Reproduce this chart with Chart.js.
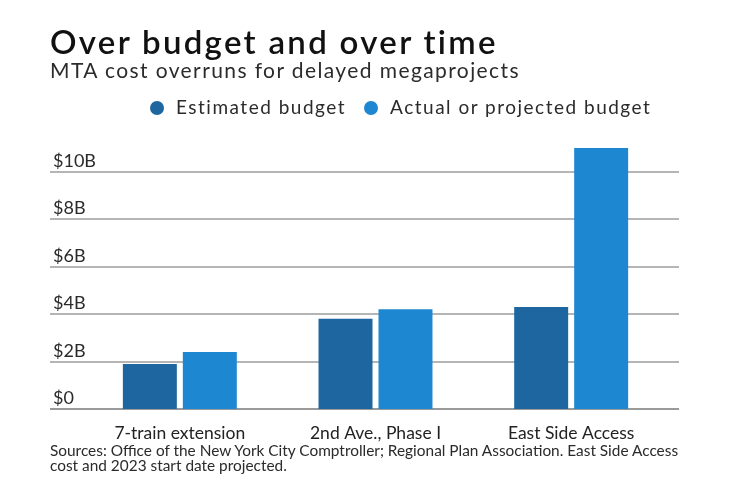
<!DOCTYPE html>
<html>
<head>
<meta charset="utf-8">
<script src="https://cdn.jsdelivr.net/npm/chart.js@4.4.1/dist/chart.umd.min.js"></script>
<style>
  html, body { margin: 0; padding: 0; background: #fff; }
  body { width: 740px; height: 482px; position: relative; overflow: hidden; font-family: 'Lato', sans-serif; }
  .txt { position: absolute; left: 50px; white-space: nowrap; line-height: 1.2; }
  #title { top: 22px; font-size: 33px; font-weight: 600; color: #111; letter-spacing: 2.3px; }
  #subtitle { top: 57px; font-size: 21px; color: #2b2b2b; letter-spacing: 1.4px; }
  #legend { top: 96px; left: 150px; font-size: 19px; color: #2b2b2b; letter-spacing: 1.5px; }
  #legend span.item { margin-right: 18px; }
  #legend i { display: inline-block; width: 14px; height: 14px; border-radius: 50%; margin-right: 12px; vertical-align: -1px; }
  #source { top: 443px; font-size: 15.4px; line-height: 15px; color: #2b2b2b; white-space: normal; width: 650px; }
  #chartBox { position: absolute; left: 0; top: 0; width: 740px; height: 482px; }
</style>
</head>
<body>
<div id="chartBox"><canvas id="budgetChart"></canvas></div>
<div id="title" class="txt">Over budget and over time</div>
<div id="subtitle" class="txt">MTA cost overruns for delayed megaprojects</div>
<div id="legend" class="txt"></div>
<div id="source" class="txt">Sources: Office of the New York City Comptroller; Regional Plan Association. East Side Access cost and 2023 start date projected.</div>
<script>
// --- Data ---
const categories = ['7-train extension', '2nd Ave., Phase I', 'East Side Access'];
const estimatedBudget = [1.9, 3.8, 4.3];   // $ billions
const actualBudget = [2.4, 4.2, 11.0];     // $ billions
const seriesNames = ['Estimated budget', 'Actual or projected budget'];
const yTickValues = [0, 2, 4, 6, 8, 10];
const yTickLabels = ['$0', '$2B', '$4B', '$6B', '$8B', '$10B'];

const darkBlue = '#1d669f';
const lightBlue = '#1e87d2';

// legend (html)
const legendEl = document.getElementById('legend');
[darkBlue, lightBlue].forEach((c, i) => {
    const s = document.createElement('span');
    s.className = 'item';
    s.innerHTML = '<i style="background:' + c + '"></i>' + seriesNames[i];
    legendEl.appendChild(s);
});

// grid lines drawn wider than the plot, labels sitting on top of each line
const wideGrid = {
    id: 'wideGrid',
    beforeDatasetsDraw(chart, args, opts) {
        const y = chart.scales.y;
        const area = chart.chartArea;
        const c = chart.ctx;
        c.save();
        yTickValues.forEach((v, i) => {
            const py = Math.round(y.getPixelForValue(v));
            c.strokeStyle = v === 0 ? '#9a9a9a' : '#b5b5b5';
            c.lineWidth = 2;
            c.beginPath();
            c.moveTo(area.left - opts.extendLeft, py);
            c.lineTo(area.right + opts.extendRight, py);
            c.stroke();
            c.fillStyle = '#2b2b2b';
            c.font = '18px Lato';
            c.textAlign = 'left';
            c.textBaseline = 'alphabetic';
            c.fillText(yTickLabels[i], area.left - opts.extendLeft + 3, py - 5);
        });
        c.restore();
    }
};

const ctx = document.getElementById('budgetChart').getContext('2d');
const myChart = new Chart(ctx, {
    type: 'bar',
    data: {
        labels: categories,
        datasets: [
            {
                label: seriesNames[0],
                data: estimatedBudget,
                backgroundColor: darkBlue,
                categoryPercentage: 0.613,
                barPercentage: 0.9
            },
            {
                label: seriesNames[1],
                data: actualBudget,
                backgroundColor: lightBlue,
                categoryPercentage: 0.613,
                barPercentage: 0.9
            }
        ]
    },
    options: {
        responsive: true,
        maintainAspectRatio: false,
        animation: false,
        layout: {
            padding: { left: 82, right: 71, top: 148, bottom: 24 }
        },
        plugins: {
            legend: { display: false },
            tooltip: { enabled: false },
            wideGrid: { extendLeft: 32, extendRight: 10 }
        },
        scales: {
            y: {
                display: false,
                min: 0,
                max: 11
            },
            x: {
                grid: { display: false, drawTicks: false },
                border: { display: false },
                ticks: {
                    padding: 14,
                    font: { size: 17.5, family: 'Lato' },
                    color: '#222'
                }
            }
        }
    },
    plugins: [wideGrid]
});
</script>
</body>
</html>
